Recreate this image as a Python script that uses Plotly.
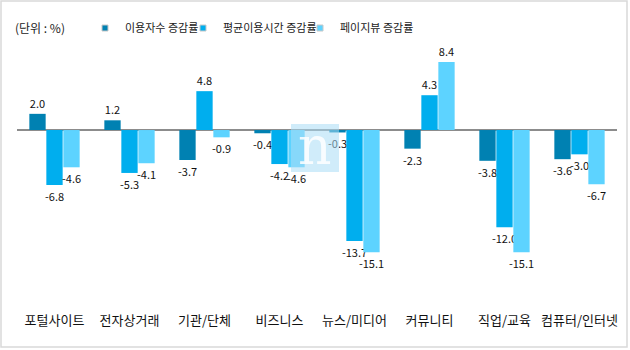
import plotly.graph_objects as go

categories = ["포털사이트", "전자상거래", "기관/단체", "비즈니스", "뉴스/미디어", "커뮤니티", "직업/교육", "컴퓨터/인터넷"]
users = [2.0, 1.2, -3.7, -0.4, -0.3, -2.3, -3.8, -3.6]
avg_time = [-6.8, -5.3, 4.8, -4.2, -13.7, 4.3, -12.0, -3.0]
pageviews = [-4.6, -4.1, -0.9, -4.6, -15.1, 8.4, -15.1, -6.7]
series_names = ["이용자수 증감률", "평균이용시간 증감률", "페이지뷰 증감률"]
colors = ["#0081B2", "#00AEEE", "#5DD3FF"]

W, H = 630, 350
ml, mr, mt, mb = 17, 13, 45, 58
FONT = "Noto Sans CJK KR, Noto Sans, sans-serif"

pw, ph = W - ml - mr, H - mt - mb
def px2x(px): return (px - ml) / pw
def px2y(py): return (H - mb - py) / ph

fig = go.Figure()
for name, vals, c in zip(series_names, [users, avg_time, pageviews], colors):
    fig.add_trace(go.Bar(
        x=categories, y=vals, name=name, marker=dict(color=c, line=dict(width=0)),
        text=[f"{v:.1f}" for v in vals], textposition="outside", constraintext="none",
        textfont=dict(size=11, color="#111111", family=FONT),
        cliponaxis=False, showlegend=False,
    ))

legend_text_x = [124, 222, 339]
legend_keys = ["legend", "legend2", "legend3"]
legends = {}
for name, c, key, tx in zip(series_names, colors, legend_keys, legend_text_x):
    fig.add_trace(go.Scatter(
        x=[None], y=[None], mode="markers", name=name, legend=key,
        marker=dict(symbol="square", size=6, color=c, line=dict(width=1, color="#c8c8c8")),
    ))
    legends[key] = dict(orientation="h", x=px2x(tx - 39), y=px2y(28), xanchor="left", yanchor="middle",
                        font=dict(size=11, family=FONT, color="#222222"), itemwidth=30,
                        bgcolor="rgba(0,0,0,0)")

shapes = [
    dict(type="rect", xref="paper", yref="paper", x0=px2x(1), x1=px2x(627), y0=px2y(347), y1=px2y(1),
         line=dict(color="#d9d9d9", width=1.5), fillcolor="rgba(0,0,0,0)", layer="below"),
    dict(type="rect", xref="paper", yref="paper", x0=px2x(291), x1=px2x(339), y0=px2y(172), y1=px2y(124),
         line=dict(width=0), fillcolor="rgba(170,220,245,0.55)", layer="above"),
]
annotations = [
    dict(text="(단위 : %)", xref="paper", yref="paper", x=px2x(13), y=px2y(28), xanchor="left", yanchor="middle",
         showarrow=False, font=dict(size=12, color="#222222", family=FONT)),
    dict(text="n", xref="paper", yref="paper", x=px2x(315), y=px2y(146), xanchor="center", yanchor="middle",
         showarrow=False, font=dict(size=52, color="rgba(255,255,255,0.85)", family="DejaVu Serif")),
]

fig.update_layout(
    width=W, height=H, margin=dict(l=ml, r=mr, t=mt, b=mb),
    paper_bgcolor="white", plot_bgcolor="white",
    barmode="group", bargap=0.32, bargroupgap=0.04,
    font=dict(family=FONT, size=12, color="#111111"),
    xaxis=dict(showline=False, showgrid=False, ticks="", tickfont=dict(size=13, family=FONT, color="#111111"),
               ticklabelstandoff=19, fixedrange=True),
    yaxis=dict(range=[-20, 10.5], showgrid=False, showticklabels=False, zeroline=True,
               zerolinecolor="#8c8c8c", zerolinewidth=1.5, showline=False, fixedrange=True),
    shapes=shapes, annotations=annotations,
    **legends,
)
fig.write_html("out.html")
